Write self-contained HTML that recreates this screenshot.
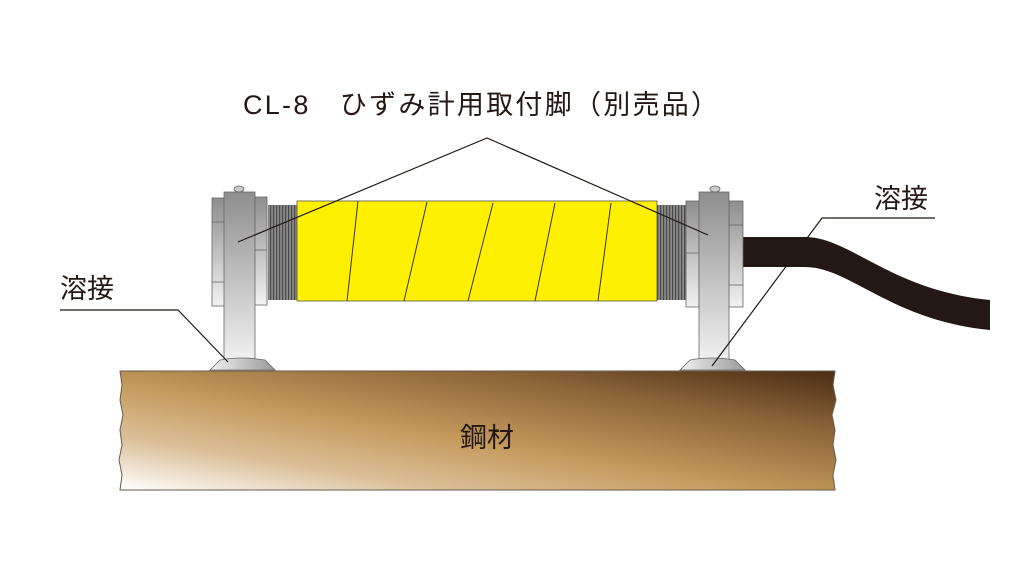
<!DOCTYPE html>
<html><head><meta charset="utf-8"><style>
html,body{margin:0;padding:0;background:#fff;}
svg{display:block}
text{font-family:"Liberation Sans","Noto Sans CJK JP",sans-serif;fill:#231815}
</style></head><body>
<svg width="1024" height="576" viewBox="0 0 1024 576" xmlns="http://www.w3.org/2000/svg">
<defs>
<linearGradient id="steel" x1="0" y1="1" x2="1" y2="0" gradientUnits="objectBoundingBox">
<stop offset="0" stop-color="#ffffff"/>
<stop offset="0.22" stop-color="#dcc09a"/>
<stop offset="0.45" stop-color="#c49a5c"/>
<stop offset="0.75" stop-color="#8a6438"/>
<stop offset="1" stop-color="#4a2c14"/>
</linearGradient>
<linearGradient id="metal" x1="0" y1="0" x2="0" y2="1">
<stop offset="0" stop-color="#8e8e8e"/>
<stop offset="1" stop-color="#f2f2f2"/>
</linearGradient>
<linearGradient id="foot" x1="0" y1="0" x2="1" y2="0">
<stop offset="0" stop-color="#f0f0f0"/>
<stop offset="1" stop-color="#9a9a9a"/>
</linearGradient>
<pattern id="thread" width="3" height="10" patternUnits="userSpaceOnUse">
<rect width="3" height="10" fill="#8a8a8a"/><rect width="1.2" height="10" fill="#4a4a4a"/>
</pattern>
</defs>

<text x="243" y="114" font-size="27" textLength="475" lengthAdjust="spacing">CL-8　ひずみ計用取付脚（別売品）</text>

<!-- steel block -->
<path d="M120,371 L835,371 L833,385 L836,400 L832,415 L835,430 L833,445 L836,460 L833,475 L835,490 L120,490 L122,475 L119,460 L122,445 L120,430 L123,415 L120,400 L122,385 Z" fill="url(#steel)" stroke="#6b5a48" stroke-width="1"/>
<text x="487" y="447" font-size="27" text-anchor="middle">鋼材</text>

<!-- cable -->
<path d="M743,237 L805,237 C850,237 890,290 990,300 L990,330 C890,320 850,267 805,267 L743,267 Z" fill="#231815"/>

<!-- threads -->
<rect x="268" y="205" width="30" height="95" fill="url(#thread)"/>
<rect x="657" y="205" width="29" height="95" fill="url(#thread)"/>

<!-- yellow tape -->
<rect x="297" y="201" width="360" height="100" fill="#fff000" stroke="#555" stroke-width="0.8"/>
<g stroke="#333" stroke-width="1">
<line x1="358" y1="201" x2="347" y2="301"/>
<line x1="427" y1="202" x2="404" y2="301"/>
<line x1="493" y1="203" x2="468" y2="301"/>
<line x1="555" y1="203" x2="535" y2="301"/>
<line x1="611" y1="203" x2="598" y2="301"/>
</g>

<!-- left bracket -->
<g stroke="#666" stroke-width="0.8">
<rect x="212" y="198" width="14" height="108" fill="url(#metal)"/>
<line x1="212" y1="222" x2="226" y2="222"/><line x1="212" y1="282" x2="226" y2="282"/>
<rect x="254" y="197" width="13" height="108" fill="url(#metal)"/>
<line x1="254" y1="250" x2="267" y2="250"/>
<rect x="224" y="192" width="31" height="170" fill="url(#metal)"/>
<ellipse cx="239" cy="189" rx="5" ry="3" fill="#ccc"/>
<path d="M210,370 L220,360 Q240,356 265,360 L275,370 Z" fill="url(#foot)"/>
</g>

<!-- right bracket -->
<g stroke="#666" stroke-width="0.8">
<rect x="686" y="201" width="13" height="106" fill="url(#metal)"/>
<line x1="686" y1="253" x2="699" y2="253"/>
<rect x="729" y="201" width="14" height="106" fill="url(#metal)"/>
<line x1="729" y1="225" x2="743" y2="225"/><line x1="729" y1="285" x2="743" y2="285"/>
<rect x="699" y="192" width="30" height="170" fill="url(#metal)"/>
<ellipse cx="715" cy="189" rx="5" ry="3" fill="#ccc"/>
<path d="M680,370 L690,360 Q712,356 735,360 L745,370 Z" fill="url(#foot)"/>
</g>

<!-- leaders -->
<g stroke="#231815" stroke-width="1.2" fill="none">
<polyline points="238,242 487,138 708,235"/>
<polyline points="60,310 178,310 228,362"/>
<polyline points="935,218 822,218 712,366"/>
</g>
<text x="60" y="298" font-size="27">溶接</text>
<text x="874" y="208" font-size="27">溶接</text>
</svg>
</body></html>
